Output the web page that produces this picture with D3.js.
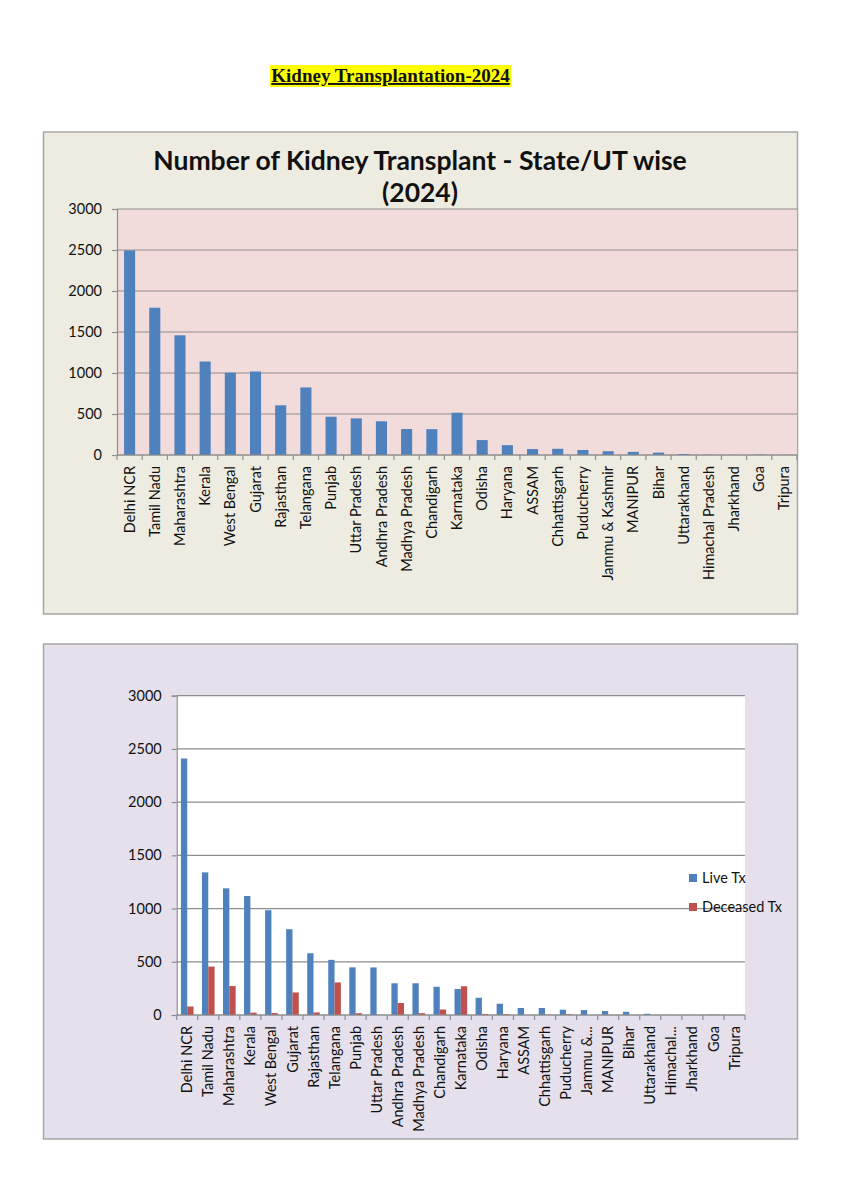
<!DOCTYPE html>
<html>
<head>
<meta charset="utf-8">
<script src="https://cdn.jsdelivr.net/npm/d3@7"></script>
<style>
  body { margin: 0; background: #fff; }
  text { font-family: Lato, "Open Sans", sans-serif; fill: #111; }
</style>
</head>
<body>
<div id="page"></div>
<script>
var states = ['Delhi NCR', 'Tamil Nadu', 'Maharashtra', 'Kerala', 'West Bengal', 'Gujarat',
  'Rajasthan', 'Telangana', 'Punjab', 'Uttar Pradesh', 'Andhra Pradesh', 'Madhya Pradesh',
  'Chandigarh', 'Karnataka', 'Odisha', 'Haryana', 'ASSAM', 'Chhattisgarh', 'Puducherry',
  'Jammu & Kashmir', 'MANIPUR', 'Bihar', 'Uttarakhand', 'Himachal Pradesh', 'Jharkhand',
  'Goa', 'Tripura'];

// second chart cuts the two longest names
var shortNames = ['Delhi NCR', 'Tamil Nadu', 'Maharashtra', 'Kerala', 'West Bengal', 'Gujarat',
  'Rajasthan', 'Telangana', 'Punjab', 'Uttar Pradesh', 'Andhra Pradesh', 'Madhya Pradesh',
  'Chandigarh', 'Karnataka', 'Odisha', 'Haryana', 'ASSAM', 'Chhattisgarh', 'Puducherry',
  'Jammu &...', 'MANIPUR', 'Bihar', 'Uttarakhand', 'Himachal...', 'Jharkhand',
  'Goa', 'Tripura'];

var totalTx = [2495, 1796, 1460, 1140, 1004, 1018, 606, 824, 467, 447, 411, 317,
  315, 516, 182, 120, 72, 76, 61, 46, 38, 29, 12, 2, 1, 5, 1];

var liveTx = [2410, 1340, 1190, 1118, 985, 806, 580, 518, 448, 447, 298, 298,
  265, 244, 162, 106, 66, 66, 50, 46, 37, 30, 12, 2, 1, 3, 0];

var deceasedTx = [80, 455, 272, 22, 18, 212, 24, 306, 17, 0, 113, 17,
  52, 270, 10, 7, 0, 3, 6, 0, 0, 0, 0, 0, 0, 2, 0];

var seriesNames = ['Live Tx', 'Deceased Tx'];
var yTicks = [0, 500, 1000, 1500, 2000, 2500, 3000];
var titleLines = ['Number of Kidney Transplant - State/UT wise', '(2024)'];

var blue = '#4F81BD';
var red = '#C0504D';
var gridColor = '#8E8E8E';

var svg = d3.select('#page').append('svg')
  .attr('width', 857)
  .attr('height', 1200);

svg.append('rect').attr('width', 857).attr('height', 1200).attr('fill', '#fff');

// page heading, highlighted and underlined
svg.append('rect')
  .attr('x', 270).attr('y', 65).attr('width', 241).attr('height', 22)
  .attr('fill', '#FFFF00');
svg.append('text')
  .attr('x', 390.5).attr('y', 82)
  .attr('text-anchor', 'middle')
  .style('font-family', '"Liberation Serif", "Times New Roman", serif')
  .style('font-weight', 'bold')
  .style('font-size', '19px')
  .style('text-decoration', 'underline')
  .text('Kidney Transplantation-2024');

var drawYAxis = function(g, y, left, right){
  g.selectAll('.grid').data(yTicks).enter().append('line')
    .attr('class', 'grid')
    .attr('x1', left).attr('x2', right)
    .attr('y1', function(d){ return y(d); })
    .attr('y2', function(d){ return y(d); })
    .attr('stroke', gridColor)
    .attr('stroke-width', 1.2);

  var axis = g.append('g')
    .attr('transform', 'translate(' + left + ',0)')
    .call(d3.axisLeft(y).tickValues(yTicks).tickFormat(d3.format('d')).tickSize(5).tickPadding(10));
  axis.select('.domain').attr('stroke', gridColor).attr('stroke-width', 1.2);
  axis.selectAll('.tick line').attr('stroke', gridColor).attr('stroke-width', 1.2);
  axis.selectAll('.tick text')
    .style('font-family', 'Lato, sans-serif')
    .style('font-size', '14.5px')
    .attr('fill', '#111');
}

var drawXAxis = function(g, x, y0, labels){
  var bounds = states.map(function(d){ return x(d); }).concat([x.range()[1]]);
  g.append('line')
    .attr('x1', x.range()[0]).attr('x2', x.range()[1])
    .attr('y1', y0).attr('y2', y0)
    .attr('stroke', gridColor).attr('stroke-width', 1.2);
  g.selectAll('.xtick').data(bounds).enter().append('line')
    .attr('class', 'xtick')
    .attr('x1', function(d){ return d; }).attr('x2', function(d){ return d; })
    .attr('y1', y0).attr('y2', y0 + 5)
    .attr('stroke', gridColor).attr('stroke-width', 1.2);

  var axis = g.append('g')
    .attr('transform', 'translate(0,' + y0 + ')')
    .call(d3.axisBottom(x).tickSize(0).tickFormat(function(d, i){ return labels[i]; }));
  axis.select('.domain').remove();
  axis.selectAll('.tick text')
    .style('font-family', 'Lato, sans-serif')
    .style('font-size', '14.5px')
    .attr('fill', '#111')
    .attr('text-anchor', 'end')
    .attr('dy', '0.35em')
    .attr('transform', 'translate(0,11) rotate(-90)')
    .attr('y', 0).attr('x', 0);
}

// ---- chart 1 : totals ----
var top1 = svg.append('g');
top1.append('rect')
  .attr('x', 43.5).attr('y', 132).attr('width', 754).attr('height', 482)
  .attr('fill', '#EEECE1').attr('stroke', '#A6A6A6').attr('stroke-width', 1.5);

var x1 = d3.scaleBand().domain(states).range([117, 797]);
var y1 = d3.scaleLinear().domain([0, 3000]).range([455, 209]);

top1.append('rect')
  .attr('x', 117).attr('y', y1(3000))
  .attr('width', 797 - 117).attr('height', y1(0) - y1(3000))
  .attr('fill', '#F2DCDB');

drawYAxis(top1, y1, 117, 797);

var barW1 = x1.bandwidth() * 0.44;
top1.selectAll('.bar').data(totalTx).enter().append('rect')
  .attr('class', 'bar')
  .attr('x', function(d, i){ return x1(states[i]) + (x1.bandwidth() - barW1) / 2; })
  .attr('y', function(d){ return y1(d); })
  .attr('width', barW1)
  .attr('height', function(d){ return y1(0) - y1(d); })
  .attr('fill', blue);

drawXAxis(top1, x1, 455, states);

top1.append('text')
  .attr('text-anchor', 'middle')
  .style('font-weight', 'bold').style('font-size', '26.5px')
  .selectAll('tspan').data(titleLines).enter().append('tspan')
  .attr('x', 420)
  .attr('y', function(d, i){ return 170 + i * 32; })
  .text(function(d){ return d; });

// ---- chart 2 : live vs deceased ----
var bot = svg.append('g');
bot.append('rect')
  .attr('x', 43.5).attr('y', 644).attr('width', 754).attr('height', 495)
  .attr('fill', '#E5E0EC').attr('stroke', '#A6A6A6').attr('stroke-width', 1.5);

var x2 = d3.scaleBand().domain(states).range([176.7, 745]);
var y2 = d3.scaleLinear().domain([0, 3000]).range([1015, 695.7]);
var groupW = x2.bandwidth() * 0.6;
var xs = d3.scaleBand().domain(seriesNames)
  .range([(x2.bandwidth() - groupW) / 2, (x2.bandwidth() + groupW) / 2]);

bot.append('rect')
  .attr('x', 176.7).attr('y', y2(3000))
  .attr('width', 745 - 176.7).attr('height', y2(0) - y2(3000))
  .attr('fill', '#fff');

drawYAxis(bot, y2, 176.7, 745);

var series = [
  {name: 'Live Tx', values: liveTx, color: blue},
  {name: 'Deceased Tx', values: deceasedTx, color: red}
];

series.forEach(function(s){
  bot.append('g').selectAll('rect').data(s.values).enter().append('rect')
    .attr('x', function(d, i){ return x2(states[i]) + xs(s.name); })
    .attr('y', function(d){ return y2(d); })
    .attr('width', xs.bandwidth())
    .attr('height', function(d){ return y2(0) - y2(d); })
    .attr('fill', s.color);
});

drawXAxis(bot, x2, 1015, shortNames);

// legend
var legend = bot.selectAll('.legend').data(series).enter().append('g')
  .attr('class', 'legend')
  .attr('transform', function(d, i){ return 'translate(689,' + (878 + i * 29) + ')'; });
legend.append('rect')
  .attr('x', 0).attr('y', -4).attr('width', 8).attr('height', 8)
  .attr('fill', function(d){ return d.color; });
legend.append('text')
  .attr('x', 13).attr('y', 0).attr('dy', '0.35em')
  .style('font-size', '14.5px')
  .text(function(d){ return d.name; });
</script>
</body>
</html>
